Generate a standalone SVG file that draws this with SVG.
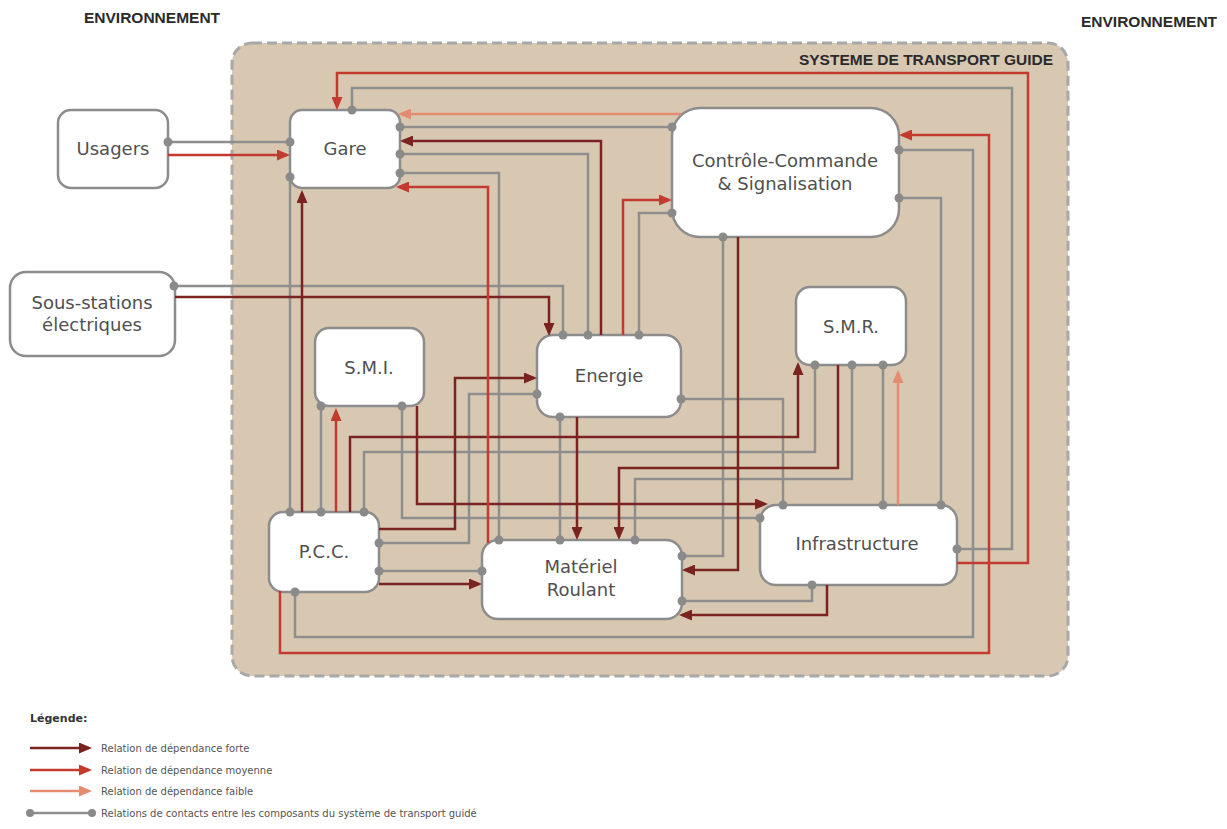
<svg xmlns="http://www.w3.org/2000/svg" width="1227" height="829" viewBox="0 0 1227 829">
<style>
.box{fill:#fff;stroke:#8c8c8c;stroke-width:2.5}
.lbl{font-family:"DejaVu Sans",sans-serif;font-size:18px;fill:#505050;text-anchor:middle}
.hdr{font-family:"Liberation Sans",Arial,sans-serif;font-weight:bold;font-size:15.5px;fill:#2a2a2a}
.leg{font-family:"DejaVu Sans",sans-serif;font-size:10px;fill:#555}
.c{fill:none;stroke-width:2.5}
.g{stroke:#8e8e8e}
.f{stroke:#7a2320}
.m{stroke:#c23b2e}
.l{stroke:#e58b72}
.dot{fill:#8a8a8a}
</style>
<defs>
<marker id="af" viewBox="0 0 13 11" refX="10" refY="5.5" markerWidth="13" markerHeight="11" markerUnits="userSpaceOnUse" orient="auto"><path d="M0,0 L13,5.5 L0,11 z" fill="#7a2320"/></marker>
<marker id="am" viewBox="0 0 13 11" refX="10" refY="5.5" markerWidth="13" markerHeight="11" markerUnits="userSpaceOnUse" orient="auto"><path d="M0,0 L13,5.5 L0,11 z" fill="#c23b2e"/></marker>
<marker id="al" viewBox="0 0 13 11" refX="10" refY="5.5" markerWidth="13" markerHeight="11" markerUnits="userSpaceOnUse" orient="auto"><path d="M0,0 L13,5.5 L0,11 z" fill="#e58b72"/></marker>
</defs>
<rect width="1227" height="829" fill="#fff"/>
<text class="hdr" x="84" y="23">ENVIRONNEMENT</text>
<text class="hdr" x="1081" y="27">ENVIRONNEMENT</text>
<g id="systeme">
<rect x="232" y="43" width="836" height="633" rx="20" fill="#d8c8b2" stroke="#a8a8a8" stroke-width="3" stroke-dasharray="10 5"/>
<text class="hdr" x="1053" y="65" text-anchor="end">SYSTEME DE TRANSPORT GUIDE</text>
</g>
<g id="usagers"><rect class="box" x="58" y="110" width="110" height="78" rx="13"/><text class="lbl" x="113" y="155">Usagers</text></g>
<g id="sous-stations"><rect class="box" x="10" y="272" width="165" height="84" rx="16"/><text class="lbl" x="92" y="309">Sous-stations</text><text class="lbl" x="92" y="331">électriques</text></g>
<g id="gare"><rect class="box" x="290" y="110" width="110" height="78" rx="12"/><text class="lbl" x="345" y="155">Gare</text></g>
<g id="controle-commande"><rect class="box" x="672" y="108" width="227" height="129" rx="28"/><text class="lbl" x="785" y="167">Contrôle-Commande</text><text class="lbl" x="785" y="190">&amp; Signalisation</text></g>
<g id="smi"><rect class="box" x="315" y="328" width="109" height="78" rx="14"/><text class="lbl" x="369" y="374">S.M.I.</text></g>
<g id="energie"><rect class="box" x="537" y="335" width="144" height="82" rx="16"/><text class="lbl" x="609" y="382">Energie</text></g>
<g id="smr"><rect class="box" x="796" y="287" width="110" height="78" rx="14"/><text class="lbl" x="851" y="333">S.M.R.</text></g>
<g id="pcc"><rect class="box" x="269" y="512" width="110" height="80" rx="14"/><text class="lbl" x="324" y="558">P.C.C.</text></g>
<g id="materiel-roulant"><rect class="box" x="482" y="540" width="200" height="79" rx="16"/><text class="lbl" x="581" y="573">Matériel</text><text class="lbl" x="581" y="596">Roulant</text></g>
<g id="infrastructure"><rect class="box" x="760" y="505" width="197" height="80" rx="16"/><text class="lbl" x="857" y="550">Infrastructure</text></g>
<g id="connectors">
<g class="c g">
<path d="M168,142 H290"/>
<path d="M352,110 V88 H1012 V549 H957"/>
<path d="M400,127 H672"/>
<path d="M400,154 H588 V335"/>
<path d="M400,173 H499 V540"/>
<path d="M290,177 V512"/>
<path d="M174,286 H563 V335"/>
<path d="M639,335 V213 H672"/>
<path d="M723,237 V556 H682"/>
<path d="M899,198 H941 V505"/>
<path d="M899,150 H973 V637 H295 V592"/>
<path d="M321,512 V406"/>
<path d="M364,512 V452 H815 V365"/>
<path d="M402,406 V518 H760"/>
<path d="M379,543 H469 V394 H537"/>
<path d="M379,571 H482"/>
<path d="M560,417 V540"/>
<path d="M681,399 H783 V505"/>
<path d="M852,365 V479 H635 V540"/>
<path d="M883,365 V505"/>
<path d="M682,601 H812 V585"/>
</g>
<g class="c f">
<path d="M601,335 V141 H403" marker-end="url(#af)"/>
<path d="M175,297 H549 V333" marker-end="url(#af)"/>
<path d="M302,512 V193" marker-end="url(#af)"/>
<path d="M417,406 V504 H765" marker-end="url(#af)"/>
<path d="M350,512 V437 H798 V365" marker-end="url(#af)"/>
<path d="M838,365 V468 H619 V537" marker-end="url(#af)"/>
<path d="M738,237 V570 H685" marker-end="url(#af)"/>
<path d="M827,585 V615 H682" marker-end="url(#af)"/>
<path d="M577,417 V537" marker-end="url(#af)"/>
<path d="M379,529 H455 V378 H534" marker-end="url(#af)"/>
<path d="M379,584 H479" marker-end="url(#af)"/>
</g>
<g class="c m">
<path d="M957,563 H1028 V73 H337 V107" marker-end="url(#am)"/>
<path d="M168,155 H287" marker-end="url(#am)"/>
<path d="M488,543 V187 H399" marker-end="url(#am)"/>
<path d="M336,512 V411" marker-end="url(#am)"/>
<path d="M623,335 V200 H669" marker-end="url(#am)"/>
<path d="M280,591 V653 H989 V135 H902" marker-end="url(#am)"/>
</g>
<g class="c l">
<path d="M681,114 H401" marker-end="url(#al)"/>
<path d="M898,505 V373" marker-end="url(#al)"/>
</g>
<g class="dot">
<circle cx="168" cy="142" r="4.5"/><circle cx="290" cy="142" r="4.5"/>
<circle cx="352" cy="110" r="4.5"/><circle cx="957" cy="549" r="4.5"/>
<circle cx="400" cy="127" r="4.5"/><circle cx="672" cy="127" r="4.5"/>
<circle cx="400" cy="154" r="4.5"/><circle cx="588" cy="335" r="4.5"/>
<circle cx="400" cy="173" r="4.5"/><circle cx="499" cy="540" r="4.5"/>
<circle cx="290" cy="177" r="4.5"/><circle cx="290" cy="512" r="4.5"/>
<circle cx="174" cy="286" r="4.5"/><circle cx="563" cy="335" r="4.5"/>
<circle cx="639" cy="335" r="4.5"/><circle cx="672" cy="213" r="4.5"/>
<circle cx="723" cy="237" r="4.5"/><circle cx="682" cy="556" r="4.5"/>
<circle cx="899" cy="198" r="4.5"/><circle cx="941" cy="505" r="4.5"/>
<circle cx="899" cy="150" r="4.5"/><circle cx="295" cy="592" r="4.5"/>
<circle cx="321" cy="512" r="4.5"/><circle cx="321" cy="406" r="4.5"/>
<circle cx="364" cy="512" r="4.5"/><circle cx="815" cy="365" r="4.5"/>
<circle cx="402" cy="406" r="4.5"/><circle cx="760" cy="518" r="4.5"/>
<circle cx="379" cy="543" r="4.5"/><circle cx="537" cy="394" r="4.5"/>
<circle cx="379" cy="571" r="4.5"/><circle cx="482" cy="571" r="4.5"/>
<circle cx="560" cy="417" r="4.5"/><circle cx="560" cy="540" r="4.5"/>
<circle cx="681" cy="399" r="4.5"/><circle cx="783" cy="505" r="4.5"/>
<circle cx="852" cy="365" r="4.5"/><circle cx="635" cy="540" r="4.5"/>
<circle cx="883" cy="365" r="4.5"/><circle cx="883" cy="505" r="4.5"/>
<circle cx="682" cy="601" r="4.5"/><circle cx="812" cy="585" r="4.5"/>
</g>
</g>
<g id="legend">
<text x="30" y="722" font-family="DejaVu Sans, sans-serif" font-weight="bold" font-size="11" fill="#333">Légende:</text>
<path class="c" d="M30,748 H89" stroke="#7a2320" marker-end="url(#af)"/>
<text class="leg" x="101" y="752">Relation de dépendance forte</text>
<path class="c" d="M30,770 H89" stroke="#c23b2e" marker-end="url(#am)"/>
<text class="leg" x="101" y="774">Relation de dépendance moyenne</text>
<path class="c" d="M30,791 H89" stroke="#e58b72" marker-end="url(#al)"/>
<text class="leg" x="101" y="795">Relation de dépendance faible</text>
<path class="c g" d="M30,813 H92"/>
<circle class="dot" cx="30" cy="813" r="4"/><circle class="dot" cx="92" cy="813" r="4"/>
<text class="leg" x="101" y="817">Relations de contacts entre les composants du système de transport guidé</text>
</g>
</svg>
